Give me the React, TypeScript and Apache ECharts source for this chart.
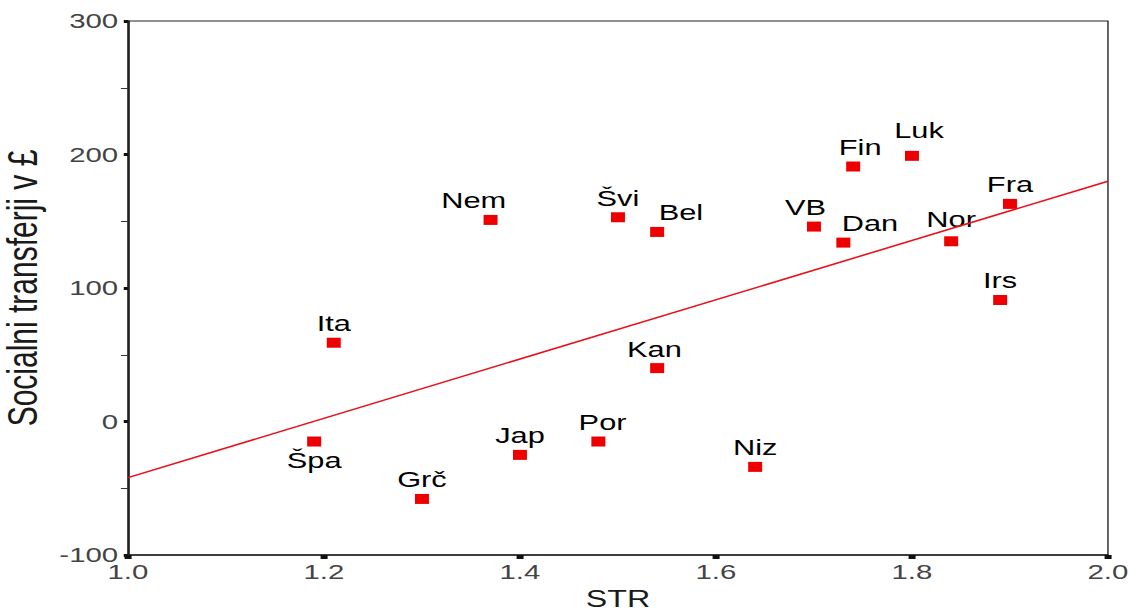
import React, { useEffect, useRef } from "react";
import * as echarts from "echarts";

const countries = ["Špa", "Ita", "Grč", "Jap", "Nem", "Por", "Švi", "Bel", "Kan", "Niz", "VB", "Dan", "Fin", "Luk", "Nor", "Fra", "Irs"];
const strValues = [1.19, 1.21, 1.3, 1.4, 1.37, 1.48, 1.5, 1.54, 1.54, 1.64, 1.7, 1.73, 1.74, 1.8, 1.84, 1.9, 1.89];
const transferValues = [-15, 59, -58, -25, 151, -15, 153, 142, 40, -34, 146, 134, 191, 199, 135, 163, 91];
const fitLineX = [1.0, 2.0];
const fitLineY = [-42, 180];
const xTicks = { min: 1.0, max: 2.0, interval: 0.2 };
const yTicks = { min: -100, max: 300, interval: 100 };

// label placement tweaks (styling only)
const labelOffsets: Record<string, [number, number]> = {
  Nem: [-12, 0],
  Bel: [17, 0],
  VB: [-6, 0],
  Dan: [19, 0],
  Fin: [5, 0],
  Luk: [5, -6],
  Nor: [0, -3],
  Por: [3, 0],
  Kan: [-2, 0],
};
const bottomLabels = ["Špa"];

const SX = 1.4;
const FONT = "'Liberation Sans', Arial, Helvetica, sans-serif";

export default function App() {
  const ref = useRef<HTMLDivElement>(null);
  useEffect(() => {
    if (!ref.current) return;
    const chart = echarts.init(ref.current, null, { renderer: "svg" });
    const points = countries.map((c, i) => {
      const bottom = bottomLabels.includes(c);
      return {
        name: c,
        value: [strValues[i], transferValues[i]],
        label: {
          position: bottom ? "bottom" : "top",
          offset: labelOffsets[c] || [0, 0],
        },
      };
    });
    chart.setOption({
      animation: false,
      backgroundColor: "#ffffff",
      grid: {
        left: 91.4,
        right: 15.6,
        top: 21,
        bottom: 56,
        containLabel: false,
        outerBoundsMode: "none",
        show: true,
        borderColor: "#222",
        borderWidth: 1,
      },
      xAxis: {
        type: "value",
        min: xTicks.min,
        max: xTicks.max,
        interval: xTicks.interval,
        name: "STR",
        nameLocation: "middle",
        nameGap: 33,
        nameTextStyle: { fontFamily: FONT, fontSize: 23, color: "#1a1a1a" },
        axisLine: { show: true, onZero: false, lineStyle: { color: "#222", width: 1.5 } },
        axisTick: { show: true, length: 4, lineStyle: { color: "#111", width: 5 } },
        axisLabel: {
          fontFamily: FONT,
          fontSize: 21,
          color: "#444",
          margin: 6,
          formatter: (v: number) => v.toFixed(1),
        },
        splitLine: { show: false },
      },
      yAxis: {
        type: "value",
        min: yTicks.min,
        max: yTicks.max,
        interval: yTicks.interval,
        name: "Socialni transferji v £",
        nameLocation: "middle",
        nameGap: 58,
        nameRotate: 90,
        nameTextStyle: { fontFamily: FONT, fontSize: 30, color: "#1a1a1a" },
        axisLine: { show: true, onZero: false, lineStyle: { color: "#222", width: 1.5 } },
        axisTick: { show: true, length: 3, lineStyle: { color: "#111", width: 3 } },
        minorTick: { show: true, splitNumber: 2, length: 5, lineStyle: { color: "#333", width: 1 } },
        axisLabel: { fontFamily: FONT, fontSize: 21, color: "#444", margin: 7 },
        splitLine: { show: false },
      },
      series: [
        {
          type: "line",
          data: fitLineX.map((x, i) => [x, fitLineY[i]]),
          showSymbol: false,
          symbol: "none",
          silent: true,
          lineStyle: { color: "#e8101a", width: 1.5 },
          z: 3,
        },
        {
          type: "scatter",
          data: points,
          symbol: "rect",
          symbolSize: [10, 10],
          itemStyle: { color: "#ee0000", opacity: 1 },
          label: {
            show: true,
            formatter: "{b}",
            distance: 3,
            fontFamily: FONT,
            fontSize: 22,
            color: "#000",
          },
          z: 2,
        },
      ],
    });
    return () => chart.dispose();
  }, []);
  return (
    <div
      style={{
        position: "absolute",
        left: 0,
        top: 0,
        width: 1130,
        height: 611,
        overflow: "hidden",
        background: "#fff",
      }}
    >
      <div
        ref={ref}
        style={{
          width: 1130 / SX,
          height: 611,
          transform: `scaleX(${SX})`,
          transformOrigin: "0 0",
        }}
      />
    </div>
  );
}
